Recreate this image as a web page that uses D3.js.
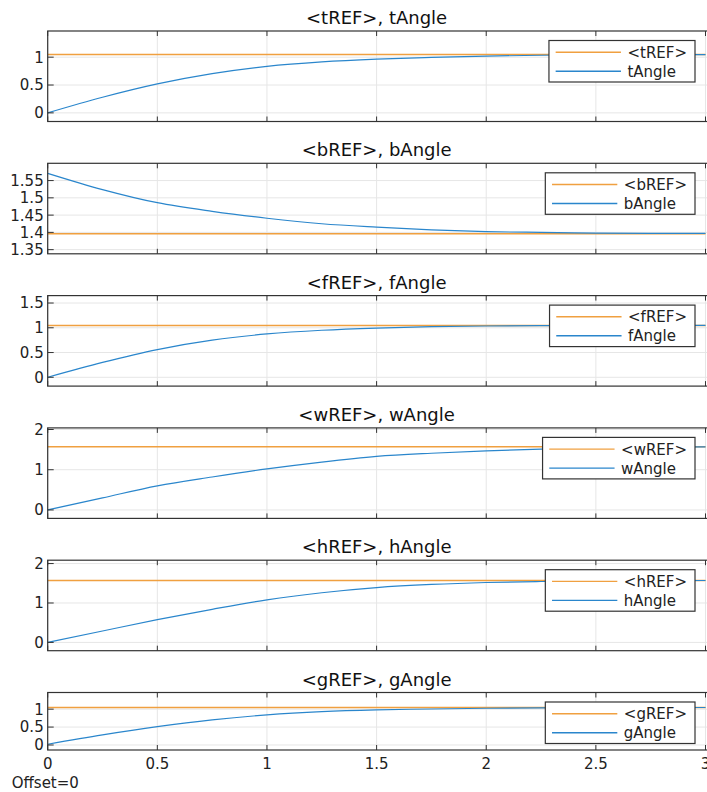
<!DOCTYPE html>
<html>
<head>
<meta charset="utf-8">
<script src="https://cdn.jsdelivr.net/npm/d3@7"></script>
<style>
  body { margin: 0; background: #fff; }
  svg { display: block; font-family: "DejaVu Sans", sans-serif; }
</style>
</head>
<body>
<div id="chart"></div>
<script>
// Time samples (s)
const time = [0, 0.25, 0.5, 0.75, 1, 1.25, 1.5, 1.75, 2, 2.25, 2.5, 2.75, 3];
const xTicks = [0, 0.5, 1, 1.5, 2, 2.5, 3];

// Angle signals
const tAngle = [0, 0.28, 0.52, 0.705, 0.835, 0.915, 0.965, 0.997, 1.02, 1.035, 1.042, 1.046, 1.047];
const bAngle = [1.571, 1.524, 1.486, 1.461, 1.441, 1.425, 1.415, 1.407, 1.402, 1.4, 1.398, 1.397, 1.397];
const fAngle = [0, 0.3, 0.56, 0.75, 0.875, 0.95, 0.995, 1.022, 1.036, 1.042, 1.045, 1.046, 1.047];
const wAngle = [0, 0.3, 0.6, 0.82, 1.02, 1.19, 1.33, 1.41, 1.47, 1.51, 1.54, 1.56, 1.57];
const hAngle = [0, 0.29, 0.578, 0.84, 1.08, 1.26, 1.39, 1.47, 1.52, 1.545, 1.56, 1.567, 1.57];
const gAngle = [0.02, 0.28, 0.51, 0.7, 0.84, 0.93, 0.98, 1.005, 1.025, 1.036, 1.042, 1.046, 1.047];

// Reference values
const refValues = [1.047, 1.396, 1.047, 1.571, 1.571, 1.047];
const refNames = ['<tREF>', '<bREF>', '<fREF>', '<wREF>', '<hREF>', '<gREF>'];
const angleNames = ['tAngle', 'bAngle', 'fAngle', 'wAngle', 'hAngle', 'gAngle'];
const angleSeries = [tAngle, bAngle, fAngle, wAngle, hAngle, gAngle];

// Y limits and ticks per panel
const yLimits = [[-0.155, 1.47], [1.338, 1.6], [-0.178, 1.65], [-0.21, 2.04], [-0.21, 2.085], [-0.14, 1.465]];
const yTicks = [[0, 0.5, 1], [1.35, 1.4, 1.45, 1.5, 1.55], [0, 0.5, 1, 1.5], [0, 1, 2], [0, 1, 2], [0, 0.5, 1]];

const W = 707, H = 792;
const left = 47.7, right = 705.5;
const blue = '#2a86cc', orange = '#f0a040', axisColor = '#333', gridColor = '#e6e6e6';

const svg = d3.select('#chart').append('svg')
    .attr('width', W)
    .attr('height', H);

svg.append('rect').attr('width', W).attr('height', H).attr('fill', '#fff');

const x = d3.scaleLinear().domain([0, 3]).range([left, right]);

angleSeries.forEach((series, i) => {
    const top = 31 + i * 132.3;
    const h = i < 5 ? 90.5 : 57.5;
    const bottom = top + h;
    const y = d3.scaleLinear().domain(yLimits[i]).range([bottom, top]);

    const g = svg.append('g');

    // grid
    g.selectAll('.vgrid').data(xTicks).enter().append('line')
        .attr('x1', d => x(d)).attr('x2', d => x(d))
        .attr('y1', top).attr('y2', bottom)
        .attr('stroke', gridColor).attr('stroke-width', 1);
    g.selectAll('.hgrid').data(yTicks[i]).enter().append('line')
        .attr('x1', left).attr('x2', 712)
        .attr('y1', d => y(d)).attr('y2', d => y(d))
        .attr('stroke', gridColor).attr('stroke-width', 1);

    // lines
    const line = d3.line()
        .x((d, k) => x(time[k]))
        .y(d => y(d))
        .curve(d3.curveMonotoneX);

    g.append('path')
        .datum(time.map(() => refValues[i]))
        .attr('d', line)
        .attr('fill', 'none')
        .attr('stroke', orange)
        .attr('stroke-width', 1.4);

    g.append('path')
        .datum(series)
        .attr('d', line)
        .attr('fill', 'none')
        .attr('stroke', blue)
        .attr('stroke-width', 1.2);

    // axes box
    g.append('rect')
        .attr('x', left).attr('y', top)
        .attr('width', 712 - left).attr('height', h)
        .attr('fill', 'none')
        .attr('stroke', axisColor).attr('stroke-width', 1.2);

    // x ticks (inward, top and bottom)
    g.selectAll('.xt').data(xTicks).enter().append('line')
        .attr('x1', d => x(d)).attr('x2', d => x(d))
        .attr('y1', bottom).attr('y2', bottom - 5)
        .attr('stroke', axisColor);
    g.selectAll('.xtt').data(xTicks).enter().append('line')
        .attr('x1', d => x(d)).attr('x2', d => x(d))
        .attr('y1', top).attr('y2', top + 5)
        .attr('stroke', axisColor);

    // y ticks + labels
    g.selectAll('.yt').data(yTicks[i]).enter().append('line')
        .attr('x1', left).attr('x2', left + 6)
        .attr('y1', d => y(d)).attr('y2', d => y(d))
        .attr('stroke', axisColor);
    g.selectAll('.yl').data(yTicks[i]).enter().append('text')
        .attr('x', left - 4)
        .attr('y', d => y(d))
        .attr('dy', '0.36em')
        .attr('text-anchor', 'end')
        .attr('font-size', 15)
        .attr('fill', '#222')
        .text(d => d3.format('~g')(d));

    // title
    g.append('text')
        .attr('x', (left + right) / 2)
        .attr('y', top - 7)
        .attr('text-anchor', 'middle')
        .attr('font-size', 18)
        .attr('fill', '#111')
        .text(refNames[i] + ', ' + angleNames[i]);

    // legend
    const lg = g.append('g');
    const box = lg.append('rect')
        .attr('fill', '#fff')
        .attr('stroke', axisColor)
        .attr('stroke-width', 1.2);
    const labels = [refNames[i], angleNames[i]];
    const colors = [orange, blue];
    let maxW = 0;
    const texts = labels.map((lab, k) => {
        const t = lg.append('text')
            .attr('y', 0)
            .attr('dy', '0.36em')
            .attr('font-size', 15)
            .attr('fill', '#222')
            .text(lab);
        maxW = Math.max(maxW, t.node().getComputedTextLength());
        return t;
    });
    const bw = 78.5 + maxW + 8;
    const bx = 695 - bw;
    const by = top + 9.5;
    box.attr('x', bx).attr('y', by).attr('width', bw).attr('height', 41.5);
    texts.forEach((t, k) => {
        const ry = by + 11.7 + k * 19;
        t.attr('x', bx + 78.5).attr('y', ry);
        lg.append('line')
            .attr('x1', bx + 6.7).attr('x2', bx + 72)
            .attr('y1', ry).attr('y2', ry)
            .attr('stroke', colors[k]).attr('stroke-width', 1.4);
    });

    // x tick labels only on the last panel
    if (i === 5) {
        g.selectAll('.xl').data(xTicks).enter().append('text')
            .attr('x', d => x(d))
            .attr('y', bottom + 19)
            .attr('text-anchor', 'middle')
            .attr('font-size', 15)
            .attr('fill', '#222')
            .text(d => d3.format('~g')(d));
    }
});

svg.append('text')
    .attr('x', 11.7)
    .attr('y', 788)
    .attr('font-size', 15)
    .attr('fill', '#222')
    .text('Offset=0');
</script>
</body>
</html>
